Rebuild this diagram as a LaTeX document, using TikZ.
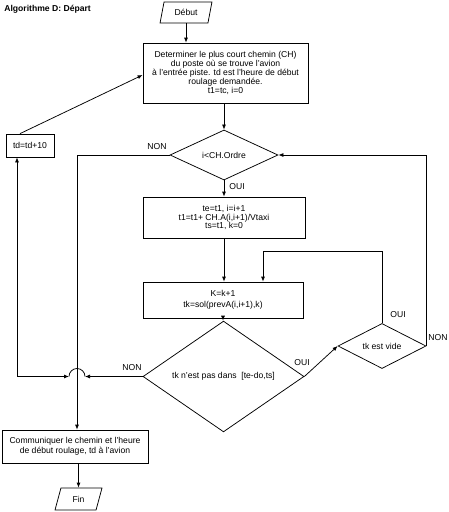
\documentclass[tikz,border=0pt]{standalone}
\usepackage{fontspec}
\setmainfont{Liberation Sans}
\usetikzlibrary{shapes.geometric,arrows.meta}
\begin{document}
\begin{tikzpicture}[x=1pt,y=-1pt,
  font=\fontsize{8.6}{9.2}\selectfont,
  line width=0.75pt,
  arr/.style={-{Latex[length=5pt,width=4pt]}},
  box/.style={draw, rectangle, inner sep=0pt, align=center},
  dia/.style={draw, diamond, inner sep=0pt, align=center},
  para/.style={draw, trapezium, trapezium left angle=72, trapezium right angle=108, trapezium stretches=true, inner sep=0pt},
  lab/.style={inner sep=0pt}]
\useasboundingbox (0,0) rectangle (448,512);

\node[lab, anchor=west, font=\fontsize{8.6}{9.2}\selectfont\bfseries] (title) at (4,9) {Algorithme D: Départ};

\node[para, minimum width=52pt, minimum height=21pt] (debut) at (186,12.5) {Début};
\node[box, minimum width=165pt, minimum height=60pt] (box1) at (225.5,73)
  {Determiner le plus court chemin (CH)\\du poste où se trouve l'avion\\à l'entrée piste. td est l'heure de début\\roulage demandée.\\t1=tc, i=0};
\node[dia, minimum width=108pt, minimum height=42pt] (d1) at (224,155) {i<CH.Ordre};
\node[box, minimum width=162pt, minimum height=41pt, font=\fontsize{8.6}{8.2}\selectfont] (box2) at (224,217.5)
  {te=t1, i=i+1\\t1=t1+ CH.A(i,i+1)/Vtaxi\\ts=t1, k=0};
\node[box, minimum width=160pt, minimum height=36pt, font=\fontsize{8.6}{10.5}\selectfont] (box3) at (223,300)
  {K=k+1\\tk=sol(prevA(i,i+1),k)};
\node[dia, minimum width=161pt, minimum height=66pt] (d2) at (223.5,376.5) {tk n'est pas dans\ \ [te-do,ts]};
\node[dia, minimum width=88pt, minimum height=44pt] (d3) at (382,346) {tk est vide};
\node[box, minimum width=48pt, minimum height=23pt] (td) at (30,145.5) {td=td+10};
\node[box, minimum width=146pt, minimum height=33pt, font=\fontsize{8.6}{10}\selectfont] (comm) at (75,446.5)
  {Communiquer le chemin et l'heure\\de début roulage, td à l'avion};
\node[para, minimum width=47pt, minimum height=22pt] (fin) at (78.5,499) {Fin};

% labels
\node[lab] (l1) at (157,147) {NON};
\node[lab] (l2) at (237,187) {OUI};
\node[lab] (l3) at (132,368) {NON};
\node[lab] (l4) at (302,363) {OUI};
\node[lab] (l5) at (398,315) {OUI};
\node[lab] (l6) at (438,338) {NON};

% helper coordinates
\coordinate (c1) at (263,251);
\coordinate (cj) at (77,376.5);
\coordinate (jr) at (85,376.5);
\coordinate (jl) at (69,376.5);
\coordinate (cx) at (17,0);
\coordinate (tdo) at (20,0);
\coordinate (b1in) at (0,75);

% connectors
\draw[arr] (debut.south) -- (debut.south |- box1.north);
\draw[arr] (d1.north |- box1.south) -- (d1.north);
\draw[arr] (d1.south) -- (d1.south |- box2.north);
\draw[arr] (box2.south) -- (box2.south |- box3.north);
\draw[arr] (box3.south) -- (box3.south |- d2.north);
\draw[arr] (d2.east) -- (d3.west);
\draw[arr] (d3.north) |- (c1) -- (c1 |- box3.north);
\draw[arr] (d3.east) |- (d1.east);
\draw[arr] (d1.west) -| (cj |- comm.north);
\draw[arr] (d2.west) -- (jr);
\draw (jr) arc[start angle=0, end angle=180, radius=8pt];
\draw[{Latex[length=5pt,width=4pt]}-{Latex[length=5pt,width=4pt]}] (cx |- td.south) |- (jl);
\draw[arr] (tdo |- td.north) -- (box1.west |- b1in);
\draw[arr] (fin.north |- comm.south) -- (fin.north);
\end{tikzpicture}
\end{document}
